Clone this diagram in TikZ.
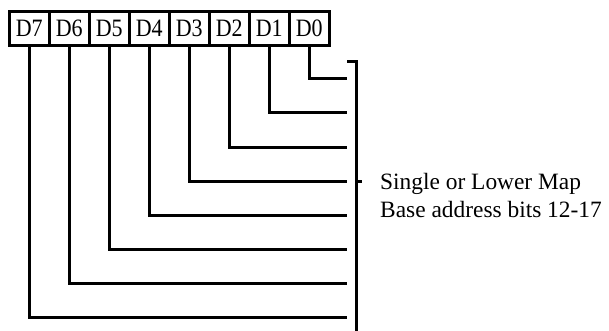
\documentclass[tikz,border=0pt]{standalone}
\usepackage{fontspec}
\setmainfont{Liberation Serif}
\usepackage{graphicx}
\begin{document}
\begin{tikzpicture}[x=1pt,y=-1pt,
  cell/.style={draw,line width=2.6pt,minimum width=40pt,minimum height=34pt,inner sep=0pt,anchor=north west,
    font=\fontsize{25}{28}\selectfont},
  wire/.style={line width=3pt},
  lbl/.style={anchor=base west,inner sep=0pt,font=\fontsize{23.4}{28}\selectfont}]
\useasboundingbox (0,0) rectangle (609,331);
\foreach \n [count=\k from 0] in {7,6,5,4,3,2,1,0}{
  \node[cell] (d\n) at (8+40*\k,10) {\scalebox{0.88}[1]{D\n}};
}
\foreach \n [count=\k from 0] in {0,1,2,3,4,5,6,7}{
  \coordinate (e\n) at (347,79+34*\k);
  \draw[wire] (d\n.south) |- (e\n);
}
\coordinate (bt) at (347,62);
\coordinate (bb) at (356,331);
\coordinate (tk) at (362,181);
\draw[wire] (bt) -| (bb);
\draw[wire] (356,181) -- (tk);
\node[lbl] (l1) at (380,189) {Single or Lower Map};
\node[lbl] (l2) at (380,217) {Base address bits 12-17};
\end{tikzpicture}
\end{document}
